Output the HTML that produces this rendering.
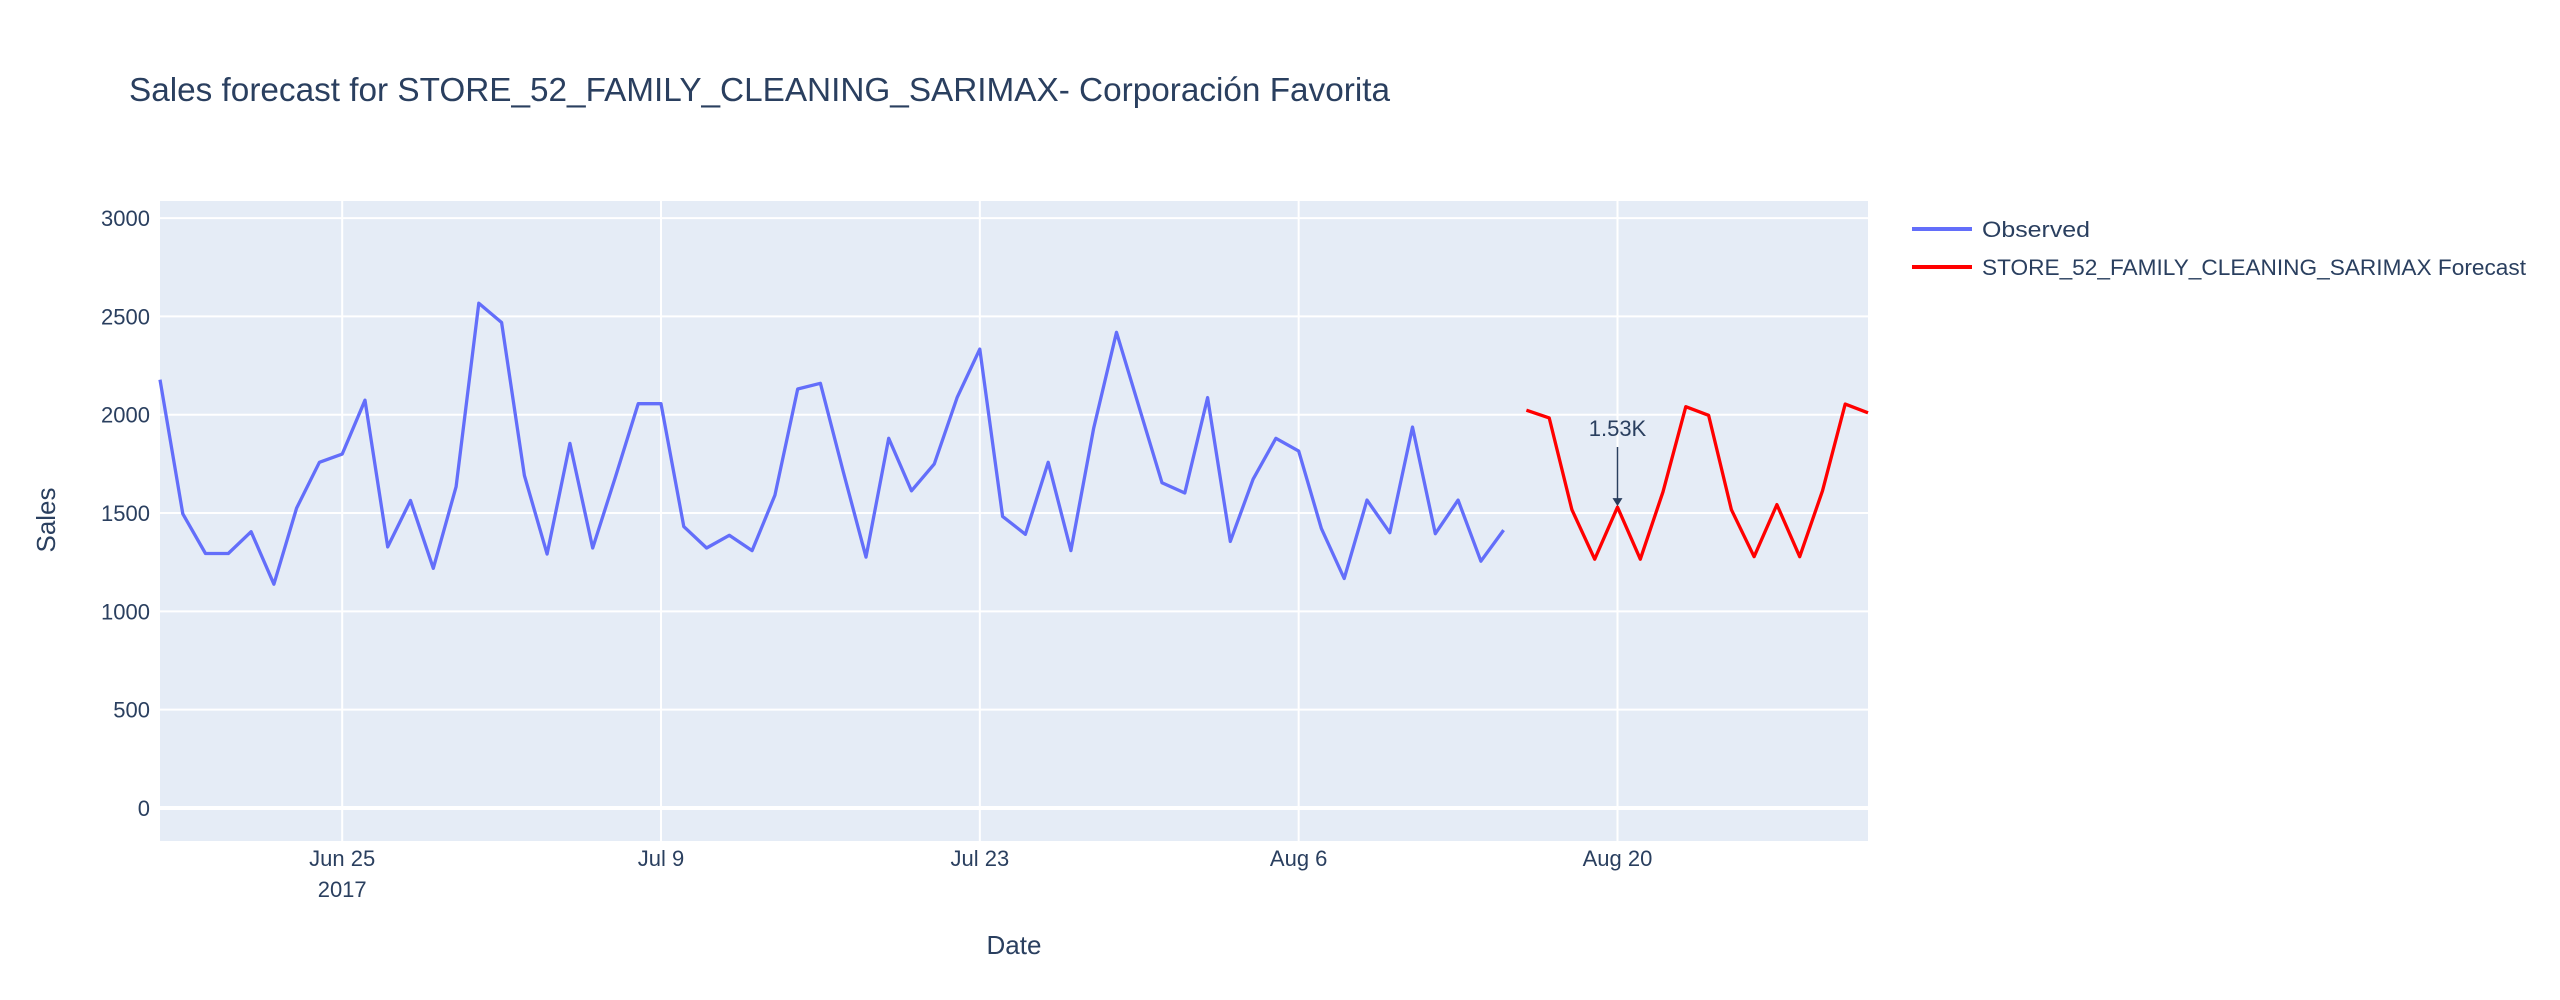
<!DOCTYPE html>
<html><head><meta charset="utf-8"><style>
html,body{margin:0;padding:0;background:#fff;}
svg{display:block;font-family:"Liberation Sans",sans-serif;}
</style></head><body>
<svg id="chart" width="2560" height="1000" xmlns="http://www.w3.org/2000/svg">
<text x="129" y="101" font-size="33" fill="#2a3f5f" textLength="1261" lengthAdjust="spacingAndGlyphs">Sales forecast for STORE_52_FAMILY_CLEANING_SARIMAX- Corporación Favorita</text>
<rect x="160" y="201" width="1708" height="640" fill="#E5ECF6"/>
<g id="grid"></g>
<g id="series"></g>
<g id="axes"></g>
<g>
<line x1="1912" y1="229" x2="1972" y2="229" stroke="#636efa" stroke-width="4"/>
<text x="1982" y="237" font-size="22" fill="#2a3f5f" textLength="108" lengthAdjust="spacingAndGlyphs">Observed</text>
<line x1="1912" y1="267" x2="1972" y2="267" stroke="#ff0000" stroke-width="4"/>
<text x="1982" y="275" font-size="22" fill="#2a3f5f" textLength="544" lengthAdjust="spacingAndGlyphs">STORE_52_FAMILY_CLEANING_SARIMAX Forecast</text>
</g>
<text transform="translate(55,520) rotate(-90)" text-anchor="middle" font-size="26" fill="#2a3f5f">Sales</text>
<text x="1014" y="954" text-anchor="middle" font-size="26" fill="#2a3f5f">Date</text>
</svg>
<script>
const observedStart = "2017-06-17";
const observedValues = [2178,1496,1294,1294,1405,1138,1525,1758,1800,2074,1328,1564,1219,1634,2567,2469,1691,1291,1854,1322,1685,2056,2056,1431,1322,1387,1309,1590,2131,2160,1711,1276,1880,1613,1750,2087,2334,1483,1392,1758,1309,1932,2419,2035,1654,1602,2087,1356,1672,1880,1815,1421,1167,1566,1400,1937,1395,1566,1255,1413];
const forecastStart = "2017-08-16";
const forecastValues = [2023,1984,1517,1265,1530,1265,1608,2041,1997,1517,1278,1543,1278,1613,2054,2010];
const yTicks = [0,500,1000,1500,2000,2500,3000];
const xTickDates = ["2017-06-25","2017-07-09","2017-07-23","2017-08-06","2017-08-20"];
const xTickLabels = ["Jun 25","Jul 9","Jul 23","Aug 6","Aug 20"];
const annotationDate = "2017-08-20";
const annotationValue = 1530;
const annotationText = "1.53K";

const NS="http://www.w3.org/2000/svg";
const DAY=86400000;
const x0=Date.parse("2017-06-17"), x1=Date.parse("2017-08-31");
const px0=160, px1=1868, py0=841, py1=201, yMin=-168, yMax=3087;
function xs(d){return px0+(Date.parse(d)-x0)/(x1-x0)*(px1-px0);}
function xsT(t){return px0+(t-x0)/(x1-x0)*(px1-px0);}
function ys(v){return py0-(v-yMin)/(yMax-yMin)*(py0-py1);}
function mk(tag,attrs,parent){const e=document.createElementNS(NS,tag);for(const k in attrs)e.setAttribute(k,attrs[k]);parent.appendChild(e);return e;}
const grid=document.getElementById('grid'), axes=document.getElementById('axes'), series=document.getElementById('series');
yTicks.forEach(v=>{
  const l=mk('line',{x1:px0,x2:px1,y1:ys(v),y2:ys(v),stroke:'#fff','stroke-width':v===0?4:2},grid);
  
  
  const t=mk('text',{x:150,y:ys(v)+8,'text-anchor':'end','font-size':22,fill:'#2a3f5f'},axes);
  
  
  t.textContent=v;
});
xTickDates.forEach((d,i)=>{
  const l=mk('line',{x1:xs(d),x2:xs(d),y1:py1,y2:py0,stroke:'#fff','stroke-width':2},grid);
  
  
  const t=mk('text',{x:xs(d),y:866,'text-anchor':'middle','font-size':22,fill:'#2a3f5f'},axes);
  
  
  t.textContent=xTickLabels[i];
  if(i===0){
    const y=mk('text',{x:xs(d),y:897,'text-anchor':'middle','font-size':22,fill:'#2a3f5f'},axes);
    
    
    y.textContent="2017";
  }
});
function pts(start,vals){const s=Date.parse(start);return vals.map((v,i)=>xsT(s+i*DAY).toFixed(1)+','+ys(v).toFixed(1)).join(' ');}
const o=mk('polyline',{points:pts(observedStart,observedValues),fill:'none',stroke:'#636efa','stroke-width':3.3,'stroke-linejoin':'round'},series);


const f=mk('polyline',{points:pts(forecastStart,forecastValues),fill:'none',stroke:'#ff0000','stroke-width':3.3,'stroke-linejoin':'round'},series);


const ax=xs(annotationDate), ay=ys(annotationValue);
const al=mk('line',{x1:ax,x2:ax,y1:447,y2:ay-6,stroke:'#2a3f5f','stroke-width':1.5},series);


const ah=mk('polygon',{points:`${ax-5},${ay-9} ${ax+5},${ay-9} ${ax},${ay-1}`,fill:'#2a3f5f'},series);


const at=mk('text',{x:ax,y:436,'text-anchor':'middle','font-size':22,fill:'#2a3f5f'},series);


at.textContent=annotationText;
</script>
</body></html>
